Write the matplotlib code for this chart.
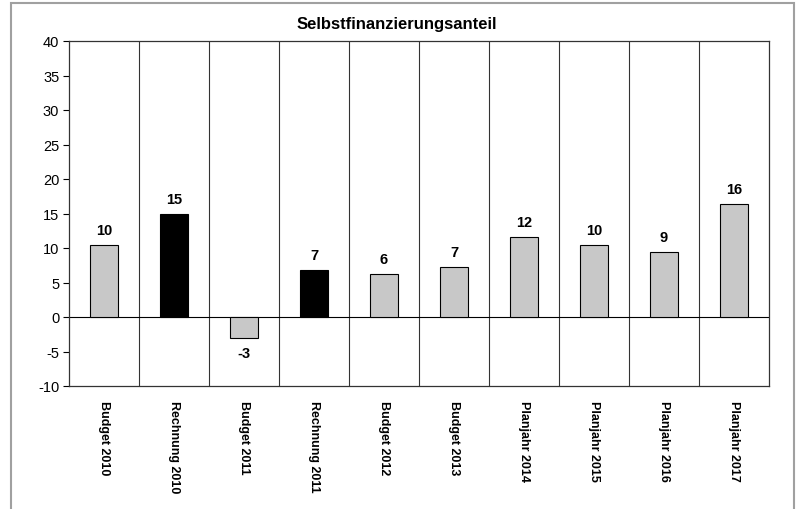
import matplotlib
matplotlib.use("Agg")
import matplotlib.pyplot as plt
from matplotlib.patches import Rectangle
import numpy as np

plt.rcParams['font.family'] = ['Liberation Sans', 'DejaVu Sans']

categories = ["Budget 2010", "Rechnung 2010", "Budget 2011", "Rechnung 2011",
              "Budget 2012", "Budget 2013", "Planjahr 2014", "Planjahr 2015",
              "Planjahr 2016", "Planjahr 2017"]
values = [10.4, 14.9, -3.0, 6.8, 6.2, 7.2, 11.6, 10.4, 9.4, 16.4]
labels = ["10", "15", "-3", "7", "6", "7", "12", "10", "9", "16"]
colors = ["#c8c8c8", "#000000", "#c8c8c8", "#000000", "#c8c8c8", "#c8c8c8",
          "#c8c8c8", "#c8c8c8", "#c8c8c8", "#c8c8c8"]
yticks = [-10, -5, 0, 5, 10, 15, 20, 25, 30, 35, 40]

W, H = 808, 510
fig = plt.figure(figsize=(W / 100, H / 100), dpi=100)
fig.patch.set_facecolor("white")

# outer frame
fig.patches.append(Rectangle((11 / W, -0.05), (794 - 11) / W, 1.05 - 4 / H,
                             transform=fig.transFigure, fill=False,
                             edgecolor="#a0a0a0", linewidth=1.5))

ax = fig.add_axes([69 / W, 1 - 387 / H, (769 - 69) / W, (387 - 42) / H])
x = np.arange(len(categories))
ax.bar(x, values, width=0.4, color=colors, edgecolor="black", linewidth=0.8, zorder=3)

for xi, v, lab in zip(x, values, labels):
    if v >= 0:
        ax.text(xi, v + 1.2, lab, ha="center", va="bottom", fontsize=10.5,
                fontweight="bold")
    else:
        ax.text(xi, v - 1.2, lab, ha="center", va="top", fontsize=10.5,
                fontweight="bold")

for b in np.arange(0.5, len(categories) - 0.5, 1.0):
    ax.axvline(b, color="#333333", linewidth=0.8, zorder=1)
ax.axhline(0, color="black", linewidth=0.8, zorder=2)

ax.set_xlim(-0.5, len(categories) - 0.5)
ax.set_ylim(-10, 40)
ax.set_yticks(yticks)
ax.set_yticklabels([str(t) for t in yticks], fontsize=10.5)
ax.tick_params(axis="y", direction="out", length=4, width=0.8, pad=3)
ax.set_xticks(x)
ax.set_xticklabels(categories, rotation=-90, fontsize=9, fontweight="bold",
                   va="top", ha="center")
ax.tick_params(axis="x", length=0, pad=10)
for s in ax.spines.values():
    s.set_color("#333333")
    s.set_linewidth(0.9)

fig.text(397 / W, 1 - 25 / H, "Selbstfinanzierungsanteil", ha="center",
         va="center", fontsize=12, fontweight="bold")

fig.savefig("out.png", dpi=100)
